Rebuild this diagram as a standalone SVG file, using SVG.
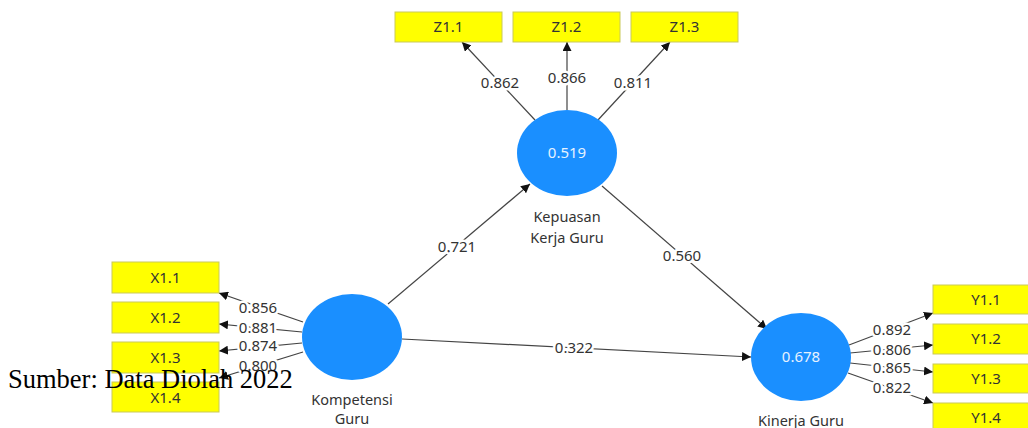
<svg xmlns="http://www.w3.org/2000/svg" width="1028" height="428" viewBox="0 0 1028 428">
<style>
.box{fill:#ffff00;stroke:#c9c95a;stroke-width:1}
.bt{font-family:"Noto Sans","Open Sans",sans-serif;font-size:15px;fill:#333;text-anchor:middle}
.lv{fill:#1a8fff}
.lvt{font-family:"Noto Sans","Open Sans",sans-serif;font-size:15px;fill:#e6f2ff;text-anchor:middle}
.nm{font-family:"Noto Sans","Open Sans",sans-serif;font-size:14.5px;fill:#333;text-anchor:middle}
.ln{stroke:#444;stroke-width:1.2;fill:none;marker-end:url(#ah)}
.lb{font-family:"Noto Sans","Open Sans",sans-serif;font-size:15px;fill:#333;text-anchor:middle;stroke:#fff;stroke-width:5;paint-order:stroke;stroke-linejoin:round}
</style>
<defs>
<marker id="ah" viewBox="0 0 10 10" refX="10" refY="5" markerWidth="9" markerHeight="9" markerUnits="userSpaceOnUse" orient="auto">
<path d="M0,0 L10,5 L0,10 z" fill="#111"/>
</marker>
</defs>
<rect width="1028" height="428" fill="#fff"/>
<g id="connectors">
<line class="ln" x1="535" y1="120" x2="462" y2="42"/>
<line class="ln" x1="567" y1="110" x2="567" y2="42"/>
<line class="ln" x1="598" y1="120" x2="670" y2="42"/>
<line class="ln" x1="303" y1="322" x2="219" y2="293"/>
<line class="ln" x1="302" y1="332" x2="219" y2="324"/>
<line class="ln" x1="302" y1="343" x2="219" y2="351"/>
<line class="ln" x1="303" y1="352" x2="219" y2="378"/>
<line class="ln" x1="849" y1="345" x2="933" y2="313"/>
<line class="ln" x1="850" y1="353" x2="933" y2="345"/>
<line class="ln" x1="850" y1="363" x2="933" y2="372"/>
<line class="ln" x1="848" y1="373" x2="933" y2="403"/>
<line class="ln" x1="388" y1="304" x2="530" y2="184"/>
<line class="ln" x1="602" y1="186" x2="767" y2="329"/>
<line class="ln" x1="402" y1="339" x2="751" y2="357"/>
<text class="lb" x="500" y="88">0.862</text>
<text class="lb" x="567" y="83">0.866</text>
<text class="lb" x="633" y="88">0.811</text>
<text class="lb" x="258" y="313">0.856</text>
<text class="lb" x="258" y="333">0.881</text>
<text class="lb" x="258" y="351">0.874</text>
<text class="lb" x="258" y="371">0.800</text>
<text class="lb" x="892" y="335">0.892</text>
<text class="lb" x="892" y="355">0.806</text>
<text class="lb" x="892" y="373">0.865</text>
<text class="lb" x="892" y="393">0.822</text>
<text class="lb" x="457" y="252">0.721</text>
<text class="lb" x="682" y="261">0.560</text>
<text class="lb" x="574" y="353">0.322</text>
</g>
<g id="Z1.1"><rect class="box" x="395" y="12" width="107" height="30"/><text class="bt" x="448.5" y="32">Z1.1</text></g>
<g id="Z1.2"><rect class="box" x="513" y="12" width="107" height="30"/><text class="bt" x="566.5" y="32">Z1.2</text></g>
<g id="Z1.3"><rect class="box" x="631" y="12" width="107" height="30"/><text class="bt" x="684.5" y="32">Z1.3</text></g>
<g id="X1.1"><rect class="box" x="112" y="262" width="107" height="31"/><text class="bt" x="165.5" y="283">X1.1</text></g>
<g id="X1.2"><rect class="box" x="112" y="302" width="107" height="31"/><text class="bt" x="165.5" y="323">X1.2</text></g>
<g id="X1.3"><rect class="box" x="112" y="342" width="107" height="31"/><text class="bt" x="165.5" y="363">X1.3</text></g>
<g id="X1.4"><rect class="box" x="112" y="382" width="107" height="30"/><text class="bt" x="165.5" y="403">X1.4</text></g>
<g id="Y1.1"><rect class="box" x="933" y="285" width="107" height="29"/><text class="bt" x="986" y="305">Y1.1</text></g>
<g id="Y1.2"><rect class="box" x="933" y="324" width="107" height="30"/><text class="bt" x="986" y="344">Y1.2</text></g>
<g id="Y1.3"><rect class="box" x="933" y="364" width="107" height="29"/><text class="bt" x="986" y="384">Y1.3</text></g>
<g id="Y1.4"><rect class="box" x="933" y="403" width="107" height="30"/><text class="bt" x="986" y="423">Y1.4</text></g>
<g id="Kepuasan"><ellipse class="lv" cx="567" cy="153" rx="50" ry="43"/><text class="lvt" x="567" y="158">0.519</text><text class="nm" x="567" y="222">Kepuasan</text><text class="nm" x="567" y="243">Kerja Guru</text></g>
<g id="Kompetensi"><ellipse class="lv" cx="352" cy="337" rx="50" ry="43"/><text class="nm" x="352" y="405">Kompetensi</text><text class="nm" x="352" y="424">Guru</text></g>
<g id="Kinerja"><ellipse class="lv" cx="801" cy="357" rx="50" ry="44"/><text class="lvt" x="801" y="362">0.678</text><text class="nm" x="801" y="426">Kinerja Guru</text></g>
<text x="8" y="388" font-family="Liberation Serif, serif" font-size="26.5" fill="#000">Sumber: Data Diolah 2022</text>
</svg>
